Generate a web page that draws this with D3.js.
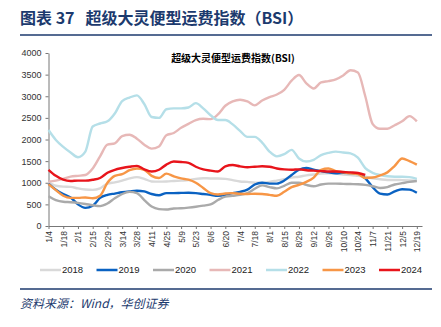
<!DOCTYPE html>
<html>
<head>
<meta charset="utf-8">
<script src="https://cdn.jsdelivr.net/npm/d3@7"></script>
<style>
  body { margin: 0; background: #fff; }
  svg { display: block; font-family: "Liberation Sans", Arial, sans-serif; }
  .tick text { fill: #333; }
</style>
</head>
<body>
<svg width="441" height="327"></svg>
<script>
// weekly BSI readings, week 0 = 1/4
var years = ["2018", "2019", "2020", "2021", "2022", "2023", "2024"];
var colors = ["#d9d9d9", "#0a62c2", "#aaaaaa", "#e7b8b7", "#b5dfe8", "#f79646", "#e8141b"];

var tickLabels = ["1/4", "1/18", "2/1", "2/15", "2/29", "3/14", "3/28", "4/11", "4/25", "5/9",
  "5/23", "6/6", "6/20", "7/4", "7/18", "8/1", "8/15", "8/29", "9/12", "9/26",
  "10/10", "10/24", "11/7", "11/21", "12/5", "12/19"];

var s2018 = [1020, 930, 910, 905, 870, 845, 835, 870, 980, 1010, 1050, 1100, 1130, 1090, 1030, 1025, 1030,
  1040, 1050, 1060, 1090, 1105, 1100, 1100, 1090, 1060, 1030, 1020, 1000, 1000, 1020, 1050, 1080, 1120,
  1140, 1170, 1190, 1210, 1220, 1210, 1190, 1180, 1160, 1140, 1100, 1080, 1065, 1065, 1060, 1055, 1050];
var s2019 = [980, 840, 740, 660, 500, 420, 470, 650, 720, 750, 780, 800, 815, 800, 740, 710, 760,
  760, 765, 770, 760, 740, 720, 700, 720, 760, 790, 840, 960, 1000, 980, 980, 1050, 1180,
  1300, 1340, 1300, 1270, 1240, 1220, 1230, 1225, 1210, 1100, 900, 750, 730, 800, 850, 840, 770];
var s2020 = [690, 600, 560, 550, 535, 510, 480, 460, 520, 640, 740, 790, 760, 600, 450, 390, 380,
  405, 410, 425, 445, 470, 500, 600, 680, 700, 720, 760, 860, 940, 900, 870, 930, 1000,
  1000, 950, 920, 960, 980, 980, 975, 970, 965, 950, 920, 880, 900, 960, 990, 1020, 1040];
var s2021 = [1025, 1050, 1090, 1140, 1160, 1180, 1330, 1610, 1880, 1910, 2080, 2110, 2020, 1880, 1790, 1840, 2100,
  2150, 2270, 2360, 2450, 2480, 2470, 2580, 2780, 2880, 2920, 2880, 2790, 2900, 2980, 3040, 3150, 3360,
  3490, 3300, 3180, 3320, 3350, 3390, 3480, 3600, 3550, 3000, 2360, 2250, 2250, 2330, 2420, 2540, 2420];
var s2022 = [2220, 1990, 1830, 1700, 1590, 1720, 2300, 2370, 2420, 2600, 2890, 2970, 3020, 2820, 2520, 2500, 2700,
  2720, 2720, 2740, 2840, 2720, 2560, 2450, 2450, 2350, 2200, 2060, 2060, 1930, 1720, 1610, 1660, 1760,
  1560, 1490, 1530, 1640, 1690, 1720, 1700, 1680, 1580, 1340, 1230, 1180, 1150, 1140, 1140, 1130, 1090];
var s2023 = [970, 830, 700, 650, 650, 660, 640, 700, 1000, 1160, 1200, 1290, 1330, 1300, 1160, 1110, 1210,
  1150, 1100, 1070, 1000, 880, 760, 730, 750, 760, 745, 740, 745, 740, 720, 700, 790, 900,
  950, 1020, 1120, 1300, 1330, 1270, 1240, 1220, 1200, 1110, 1120, 1170, 1240, 1390, 1560, 1500, 1420];
var s2024 = [1300, 1160, 1070, 1040, 1050, 1050, 1070, 1110, 1230, 1300, 1340, 1370, 1390, 1310, 1260, 1300, 1420,
  1490, 1480, 1460, 1370, 1310, 1280, 1260, 1380, 1410, 1380, 1360, 1370, 1380, 1370, 1330, 1310, 1300,
  1310, 1290, 1280, 1270, 1260, 1260, 1250, 1240, 1225, 1180];

var seriesList = [s2018, s2019, s2020, s2021, s2022, s2023, s2024];
var yTicks = [0, 500, 1000, 1500, 2000, 2500, 3000, 3500, 4000];

var svg = d3.select("svg");

// header
svg.append("text")
    .attr("x", 20).attr("y", 24)
    .attr("fill", "#1c3a6e")
    .style("font-family", "'Noto Sans CJK SC', sans-serif")
    .style("font-weight", "bold")
    .style("font-size", "16px")
    .style("white-space", "pre")
    .text("图表 37   超级大灵便型运费指数（BSI）");

svg.append("line")
    .attr("x1", 20).attr("x2", 432).attr("y1", 35).attr("y2", 35)
    .attr("stroke", "#1c3a6e").attr("stroke-width", 1.5);

svg.append("text")
    .attr("x", 233).attr("y", 62)
    .attr("text-anchor", "middle")
    .style("font-family", "'Noto Sans CJK SC', sans-serif")
    .style("font-weight", "bold")
    .style("font-size", "10px")
    .text("超级大灵便型运费指数(BSI)");

var x = d3.scaleLinear().domain([0, 50.7]).range([48.5, 422]);
var y = d3.scaleLinear().domain([0, 4000]).range([226, 53]);

var yAxis = svg.append("g")
    .attr("transform", "translate(48.5,0)")
    .call(d3.axisLeft(y).tickValues(yTicks).tickFormat(d3.format("d"))
        .tickSize(3).tickSizeOuter(0).tickPadding(4));
yAxis.selectAll("text").style("font-size", "9px");

var xAxis = svg.append("g")
    .attr("transform", "translate(0,226)")
    .call(d3.axisBottom(x)
        .tickValues(d3.range(0, 51, 2))
        .tickFormat(function(d) { return tickLabels[d / 2]; })
        .tickSize(3).tickSizeOuter(0));
xAxis.selectAll("text")
    .style("font-size", "8.5px")
    .attr("transform", "rotate(-90)")
    .attr("text-anchor", "end")
    .attr("x", -5).attr("y", 0).attr("dy", "0.35em");

svg.selectAll(".domain, .tick line").attr("stroke", "#777");

var line = d3.line()
    .x(function(d, i) { return x(i); })
    .y(function(d) { return y(d); })
    .curve(d3.curveMonotoneX);

svg.append("g").selectAll("path")
    .data(seriesList)
    .enter().append("path")
      .attr("d", line)
      .attr("fill", "none")
      .attr("stroke", function(d, i) { return colors[i]; })
      .attr("stroke-width", 2.4)
      .attr("stroke-linejoin", "round");

// legend
var legend = svg.append("g").selectAll("g")
    .data(years)
    .enter().append("g")
      .attr("transform", function(d, i) { return "translate(" + (40 + i * 56.5) + ",270)"; });
legend.append("line")
    .attr("x1", 0).attr("x2", 21)
    .attr("stroke", function(d, i) { return colors[i]; })
    .attr("stroke-width", 2.5);
legend.append("text")
    .attr("x", 22).attr("dy", "0.35em")
    .style("font-size", "9.5px")
    .attr("fill", "#222")
    .text(function(d) { return d; });

svg.append("line")
    .attr("x1", 20).attr("x2", 432).attr("y1", 289).attr("y2", 289)
    .attr("stroke", "#1c3a6e").attr("stroke-width", 1.5);

svg.append("text")
    .attr("x", 20).attr("y", 308)
    .attr("fill", "#1c3a6e")
    .style("font-family", "'Noto Sans CJK SC', sans-serif")
    .style("font-style", "italic")
    .style("font-size", "12px")
    .text("资料来源：Wind，华创证券");
</script>
</body>
</html>
